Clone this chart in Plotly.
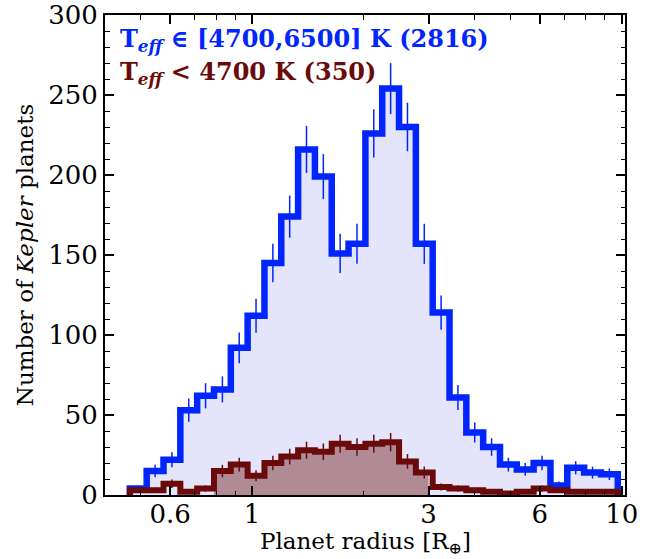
import numpy as np
import plotly.graph_objects as go

# bin edges (log-uniform), 29 bins
edge_lo, edge_hi, n_bins = 0.467, 9.75, 29
edges = np.logspace(np.log10(edge_lo), np.log10(edge_hi), n_bins + 1)

hot_counts = [4, 15, 22, 53, 62, 66, 92, 112, 145, 174, 216, 199, 151, 157, 226,
              254, 230, 157, 114, 61, 39, 30, 19, 16, 20, 6, 17, 14, 13]
cool_counts = [3, 3, 7, 2, 4, 15, 19, 12, 20, 24, 28, 27, 32, 30, 32,
               33, 21, 14, 5, 4, 3, 2, 1, 2, 4, 3, 2, 2, 2]

label_hot = "<b>T<sub><i>eff</i></sub> \u2208 [4700,6500] K (2816)</b>"
label_cool = "<b>T<sub><i>eff</i></sub> &lt; 4700 K (350)</b>"
x_title = "Planet radius [R<sub>\u2295</sub>]"
y_title = "Number of <i>Kepler</i> planets"

major_ticks = [0.6, 1, 3, 6, 10]
major_labels = ["0.6", "1", "3", "6", "10"]
minor_ticks = [0.5, 0.7, 0.8, 0.9, 2, 4, 5, 7, 8, 9]

BLUE = "#0025ff"
BROWN = "#6b0a0a"
LAV = "#e4e4fb"
ROSE = "#b08a94"


def step_xy(vals):
    xs, ys = [edges[0]], [0]
    for i, v in enumerate(vals):
        xs += [edges[i], edges[i + 1]]
        ys += [v, v]
    xs.append(edges[-1]); ys.append(0)
    return xs, ys


def clipped_fill(vals, lo, hi):
    xs, ys = [lo], [0]
    for i, v in enumerate(vals):
        a, b = max(edges[i], lo), min(edges[i + 1], hi)
        if a < b:
            xs += [a, b]
            ys += [v, v]
    xs.append(hi); ys.append(0)
    return xs, ys


centers = np.sqrt(edges[:-1] * edges[1:])

fig = go.Figure()
bx, by = step_xy(hot_counts)
fig.add_trace(go.Scatter(x=bx, y=by, mode="lines", line=dict(width=0),
                         fill="tozeroy", fillcolor=LAV, hoverinfo="skip"))
fx, fy = clipped_fill(cool_counts, edges[5], 3.0)
fig.add_trace(go.Scatter(x=fx, y=fy, mode="lines", line=dict(width=0),
                         fill="tozeroy", fillcolor=ROSE, hoverinfo="skip"))
fig.add_trace(go.Scatter(x=bx, y=by, mode="lines", line=dict(color=BLUE, width=6.5)))
fig.add_trace(go.Scatter(x=centers, y=hot_counts, mode="markers",
                         marker=dict(size=1, color=BLUE, opacity=0),
                         error_y=dict(type="data", array=np.sqrt(hot_counts),
                                      color=BLUE, thickness=1.5, width=0)))
rx, ry = step_xy(cool_counts)
fig.add_trace(go.Scatter(x=rx, y=ry, mode="lines", line=dict(color=BROWN, width=6)))
fig.add_trace(go.Scatter(x=centers, y=cool_counts, mode="markers",
                         marker=dict(size=1, color=BROWN, opacity=0),
                         error_y=dict(type="data", array=np.sqrt(cool_counts),
                                      color=BROWN, thickness=1.5, width=0)))

font = "DejaVu Serif"
fig.add_annotation(x=0.025, y=0.948, xref="paper", yref="paper", xanchor="left",
                   yanchor="middle", text=label_hot, showarrow=False,
                   font=dict(family=font, size=24, color=BLUE))
fig.add_annotation(x=0.025, y=0.879, xref="paper", yref="paper", xanchor="left",
                   yanchor="middle", text=label_cool, showarrow=False,
                   font=dict(family=font, size=24, color=BROWN))
fig.add_annotation(x=0.5, y=-0.1, xref="paper", yref="paper", xanchor="center",
                   yanchor="middle", text=x_title, showarrow=False,
                   font=dict(family=font, size=23, color="black"))

fig.update_layout(
    width=655, height=559,
    margin=dict(l=105, r=30, t=15, b=64, autoexpand=False),
    paper_bgcolor="white", plot_bgcolor="white",
    showlegend=False,
    font=dict(family=font, color="black"),
)
fig.update_xaxes(
    type="log", range=[np.log10(0.4), np.log10(10.2)], automargin=False,
    tickvals=major_ticks, ticktext=major_labels,
    ticks="inside", ticklen=9, tickwidth=1.5, tickcolor="black",
    ticklabelstandoff=-5,
    minor=dict(tickvals=minor_ticks, ticks="inside", ticklen=4.5, tickwidth=1.2,
               tickcolor="black"),
    showline=True, linecolor="black", linewidth=2, mirror="ticks",
    showgrid=False, zeroline=False,
    tickfont=dict(family=font, size=26, color="black"),
)
fig.update_yaxes(
    range=[0, 300], tickvals=[0, 50, 100, 150, 200, 250, 300], automargin=False,
    ticks="inside", ticklen=9, tickwidth=1.5, tickcolor="black",
    minor=dict(dtick=10, ticks="inside", ticklen=4.5, tickwidth=1.2, tickcolor="black"),
    showline=True, linecolor="black", linewidth=2, mirror="ticks",
    showgrid=False, zeroline=False,
    tickfont=dict(family=font, size=26, color="black"),
    title=dict(text=y_title,
               font=dict(family=font, size=23, color="black"), standoff=8),
)

fig.write_html("out.html")
